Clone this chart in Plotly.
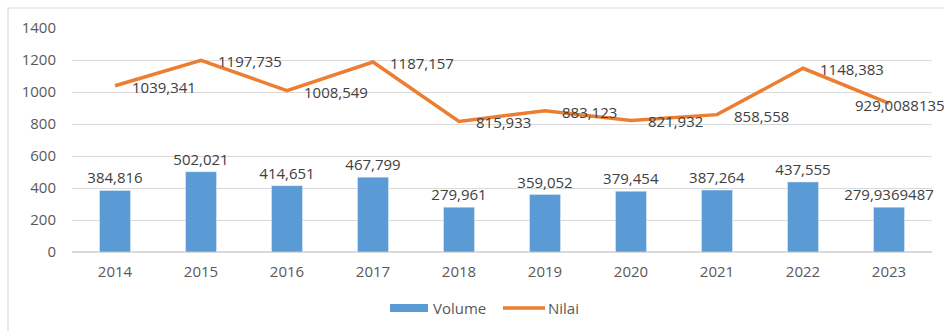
import plotly.graph_objects as go

years = ["2014", "2015", "2016", "2017", "2018", "2019", "2020", "2021", "2022", "2023"]
volume = [384.816, 502.021, 414.651, 467.799, 279.961, 359.052, 379.454, 387.264, 437.555, 279.9369487]
nilai = [1039.341, 1197.735, 1008.549, 1187.157, 815.933, 883.123, 821.932, 858.558, 1148.383, 929.0088135]
volume_labels = ["384,816", "502,021", "414,651", "467,799", "279,961", "359,052", "379,454", "387,264", "437,555", "279,9369487"]
nilai_labels = ["1039,341", "1197,735", "1008,549", "1187,157", "815,933", "883,123", "821,932", "858,558", "1148,383", "929,0088135"]

W, H = 944, 331
ml, mr, mt, mb = 72, 12, 28, 79
pw, ph = W - ml - mr, H - mt - mb

font = "Open Sans, Liberation Sans, sans-serif"
txt = "#404040"
axc = "#595959"
blue = "#5B9BD5"
orange = "#ED7D31"
fs = 15

fig = go.Figure()
fig.add_trace(go.Bar(
    x=years, y=volume, name="Volume", marker_color=blue,
    text=volume_labels, textposition="outside", cliponaxis=False,
    constraintext="none",
    textfont=dict(size=fs, color=txt, family=font),
))
fig.add_trace(go.Scatter(
    x=years, y=nilai, name="Nilai", mode="lines",
    line=dict(color=orange, width=3.5), cliponaxis=False,
))

annotations = []
for i, (v, lab) in enumerate(zip(nilai, nilai_labels)):
    xs = 15 if i < len(years) - 1 else -36
    ys = -1 if i < len(years) - 1 else -2
    annotations.append(dict(
        x=i, y=v, xref="x", yref="y", text=lab, showarrow=False,
        xanchor="left", yanchor="middle", xshift=xs, yshift=ys,
        font=dict(size=fs, color=txt, family=font),
    ))

# custom legend
leg_y = (H - mb - 308) / ph
annotations.append(dict(x=(431 - ml) / pw, y=leg_y, xref="paper", yref="paper",
                        text="Volume", showarrow=False, xanchor="left", yanchor="middle",
                        font=dict(size=fs, color=axc, family=font)))
annotations.append(dict(x=(546 - ml) / pw, y=leg_y, xref="paper", yref="paper",
                        text="Nilai", showarrow=False, xanchor="left", yanchor="middle",
                        font=dict(size=fs, color=axc, family=font)))

shapes = [
    dict(type="rect", xref="paper", yref="paper",
         x0=(8 - ml) / pw, x1=(W + 5 - ml) / pw,
         y0=(H - mb - (H + 5)) / ph, y1=(H - mb - 8) / ph,
         line=dict(color="#d9d9d9", width=1.2), fillcolor="rgba(0,0,0,0)", layer="below"),
    dict(type="rect", xref="paper", yref="paper",
         x0=(390 - ml) / pw, x1=(428 - ml) / pw,
         y0=(H - mb - 312) / ph, y1=(H - mb - 304) / ph,
         line=dict(width=0), fillcolor=blue),
    dict(type="line", xref="paper", yref="paper",
         x0=(503 - ml) / pw, x1=(545 - ml) / pw,
         y0=leg_y, y1=leg_y,
         line=dict(color=orange, width=3.5)),
]

fig.update_layout(
    width=W, height=H,
    margin=dict(l=ml, r=mr, t=mt, b=mb),
    paper_bgcolor="white", plot_bgcolor="white",
    bargap=0.64,
    font=dict(family=font, size=fs, color=axc),
    showlegend=False,
    xaxis=dict(type="category", range=[-0.5, len(years) - 0.5], showgrid=False, showline=False,
               ticks="", ticklabelstandoff=9, tickfont=dict(size=fs, color=axc)),
    yaxis=dict(range=[0, 1400], dtick=200, showgrid=True, gridcolor="#d9d9d9",
               gridwidth=1, zeroline=True, zerolinecolor="#d9d9d9", showline=False,
               ticks="", ticklabelstandoff=15, tickfont=dict(size=fs, color=axc)),
    shapes=shapes,
    annotations=annotations,
)

fig.write_html("out.html")
